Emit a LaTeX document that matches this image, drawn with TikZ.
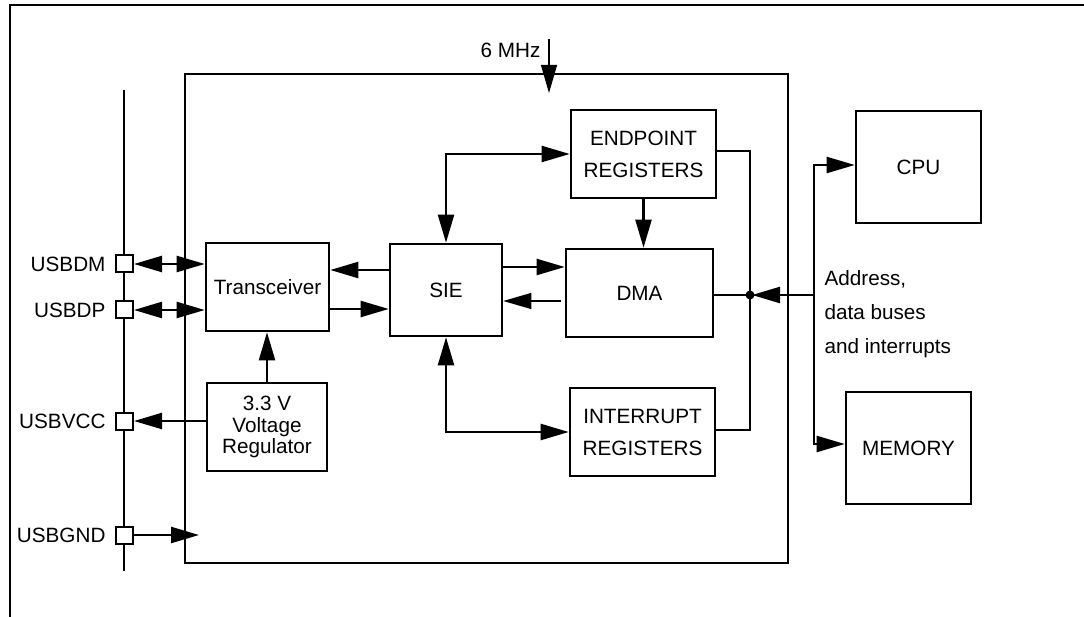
\documentclass[tikz,border=0pt]{standalone}
\usepackage{fontspec}
\setmainfont{Liberation Sans}
\usetikzlibrary{arrows.meta}
\begin{document}
\begin{tikzpicture}[x=1pt,y=-1pt,
  font=\fontsize{20.7}{24}\selectfont,
  box/.style={draw,line width=2.6pt,inner sep=0pt,align=center},
  conn/.style={line width=2.3pt},
  arr/.style={conn,-{Triangle[length=28pt,width=16pt]}},
  dbl/.style={conn,{Triangle[length=28pt,width=16pt]}-{Triangle[length=28pt,width=16pt]}},
  thinarr/.style={line width=1.2pt,-{Triangle[length=28pt,width=16pt]}},
  pin/.style={draw,fill=white,line width=2pt,minimum size=17pt,inner sep=0pt},
  twoline/.style={font=\fontsize{20.7}{32}\selectfont},
  tight/.style={font=\fontsize{20.7}{21.5}\selectfont}
]
\useasboundingbox (0,0) rectangle (1084,617);

% outer frame
\coordinate (fBL) at (10,617);
\coordinate (fTL) at (10,5);
\coordinate (fTR) at (1084,5);
\draw[line width=2.8pt] (fBL) -- (fTL) -- (fTR);

% chip box
\node[draw,line width=2.6pt,inner sep=0pt,minimum width=603pt,minimum height=489pt] (chip) at (486.5,318.5) {};

% blocks
\node[box,minimum width=123pt,minimum height=88pt] (trx) at (267.5,287) {Transceiver};
\node[box,tight,minimum width=120pt,minimum height=88pt] (reg) at (267,427) {3.3 V\\Voltage\\Regulator};
\node[box,minimum width=112pt,minimum height=92pt] (sie) at (446,290) {SIE};
\node[box,twoline,minimum width=145pt,minimum height=88pt] (ep) at (643.5,154) {ENDPOINT\\REGISTERS};
\node[box,minimum width=147pt,minimum height=88pt] (dma) at (639.5,293) {DMA};
\node[box,twoline,minimum width=145pt,minimum height=88pt] (ir) at (642.5,432) {INTERRUPT\\REGISTERS};
\node[box,minimum width=125pt,minimum height=112pt] (cpu) at (918.5,167) {CPU};
\node[box,minimum width=125pt,minimum height=112pt] (mem) at (908.5,448) {MEMORY};

% USB bus line and pins
\coordinate (busT) at (124,90);
\coordinate (busB) at (124,571);
\draw[conn] (busT) -- (busB);
\node[pin] (pinDM) at (124.5,264) {};
\node[pin] (pinDP) at (124.5,310) {};
\node[pin] (pinVCC) at (124.5,421) {};
\node[pin] (pinGND) at (124.5,535) {};
\node[anchor=east] (lDM) at (109,264) {USBDM};
\node[anchor=east] (lDP) at (109,310) {USBDP};
\node[anchor=east] (lVCC) at (109,421) {USBVCC};
\node[anchor=east] (lGND) at (109,535) {USBGND};

% pin connections
\draw[dbl] (pinDM.east) -- (pinDM.east -| trx.west);
\draw[dbl] (pinDP.east) -- (pinDP.east -| trx.west);
\draw[arr] (pinVCC.east -| reg.west) -- (pinVCC.east);
\coordinate (gndIn) at (199,535);
\draw[arr] (pinGND.east) -- (gndIn);
\draw[arr] (reg.north) -- (reg.north |- trx.south);

% transceiver <-> SIE
\coordinate (s2t) at ([yshift=20pt]sie.west);
\draw[arr] (s2t) -- (s2t -| trx.east);
\coordinate (t2s) at ([yshift=-19pt]sie.west);
\draw[arr] (t2s -| trx.east) -- (t2s);

% SIE <-> DMA
\coordinate (s2d) at ([yshift=26pt]dma.west);
\draw[arr] (s2d -| sie.east) -- (s2d);
\coordinate (d2s) at ([xshift=-4pt,yshift=-8pt]dma.west);
\draw[thinarr] (d2s) -- (d2s -| sie.east);

% SIE <-> registers
\draw[dbl] (sie.north) -- (sie.north |- ep.west) -- (ep.west);
\draw[dbl] (sie.south) -- (sie.south |- ir.west) -- (ir.west);
\draw[arr] (ep.south) -- (ep.south |- dma.north);

% clock
\node[anchor=east] (clk) at (544,50) {6 MHz};
\coordinate (clkS) at (549,39);
\coordinate (clkE) at (549,93);
\draw[thinarr] (clkS) -- (clkE);

% internal bus
\coordinate (j) at (750,295);
\coordinate (epOut) at ([yshift=3pt]ep.east);
\coordinate (irOut) at ([yshift=2pt]ir.east);
\draw[conn] (epOut) -- (epOut -| j) -- (irOut -| j) -- (irOut);
\draw[conn] (j -| dma.east) -- (j);
\fill (j) circle (4.5pt);

% system bus
\coordinate (sb) at (814,295);
\draw[arr,shorten >=2pt] (sb) -- (j);
\coordinate (cpuIn) at ([yshift=2pt]cpu.west);
\coordinate (memIn) at ([yshift=4pt]mem.west);
\draw[arr] (sb) -- (sb |- cpuIn) -- (cpuIn);
\draw[arr] (sb) -- (sb |- memIn) -- (memIn);
\node[anchor=west,align=left,font=\fontsize{20.7}{34}\selectfont] (busLbl) at (821,314) {Address,\\data buses\\and interrupts};
\end{tikzpicture}
\end{document}
